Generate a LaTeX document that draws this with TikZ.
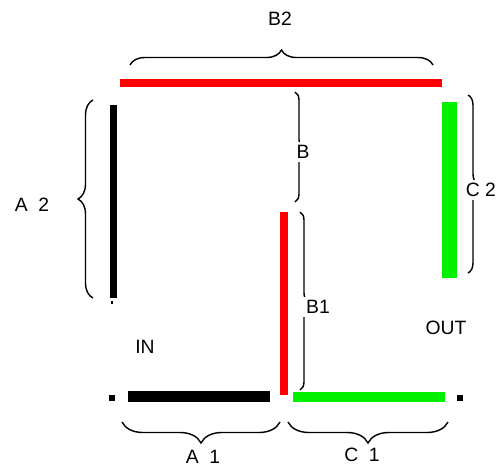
\documentclass[tikz,border=0pt]{standalone}
\usepackage{fontspec}
\setmainfont{Liberation Sans}
\usepackage{xcolor}
\usetikzlibrary{decorations.pathreplacing}
\definecolor{barred}{RGB}{255,0,0}
\definecolor{bargreen}{RGB}{0,240,0}
\tikzset{%
	bar/.style   = {line width=#1},
	brace/.style = {decorate, decoration={brace, amplitude=#1}, thick},
	lbl/.style   = {font=\fontsize{11}{13}\selectfont, inner sep=1pt},
	onbrace/.style = {lbl, fill=white, inner sep=2pt},
	dot/.style   = {fill=black, minimum size=0.12cm, inner sep=0pt},
}

\begin{document}
\begin{tikzpicture}[x=0.02cm,y=0.02cm]
	\useasboundingbox (0,0) rectangle (498,-468);
	% bars
	\draw[bar=0.16cm, barred] (120,-83) -- (442,-83);  % top
	\draw[bar=0.14cm, black] (113.5,-105) -- (113.5,-298);  % left
	\draw[bar=0.16cm, barred] (284,-212) -- (284,-395);  % middle
	\draw[bar=0.3cm, bargreen] (449.5,-102) -- (449.5,-278);  % right
	\draw[bar=0.22cm, black] (128,-396.5) -- (270,-396.5);  % bottom left
	\draw[bar=0.2cm, bargreen] (293,-397) -- (445,-397);  % bottom right
	\node[dot] (inend) at (112,-398) {};
	\node[dot] (outend) at (460,-398) {};
	\node[dot, minimum size=0.06cm] (leftend) at (112,-302) {};
	% braces
	\draw[brace=0.3cm] (130,-65) -- (433,-65);
	\draw[brace=0.3cm] (93,-298) -- (93,-100);
	\draw[brace=0.16cm] (295,-92) -- (295,-202);
	\draw[brace=0.16cm] (300,-212) -- (300,-390);
	\draw[brace=0.2cm] (468,-95) -- (468,-273);
	\draw[brace=0.42cm] (280,-422) -- (122,-422);
	\draw[brace=0.42cm] (448,-422) -- (288,-422);
	% labels
	\node[lbl] (b2) at (280,-19) {B2};
	\node[lbl] (a2) at (32,-205) {A\ \ 2};
	\node[onbrace] (b) at (303,-152) {B};
	\node[onbrace] (b1) at (318,-307) {B1};
	\node[onbrace, anchor=east, inner xsep=1pt] (c2) at (498,-190) {C 2};
	\node[lbl] (in) at (145,-347) {IN};
	\node[lbl] (out) at (446,-328) {OUT};
	\node[lbl] (a1) at (203,-457) {A\ \ 1};
	\node[lbl] (c1) at (362,-455) {C\ \ 1};
\end{tikzpicture}
\end{document}
